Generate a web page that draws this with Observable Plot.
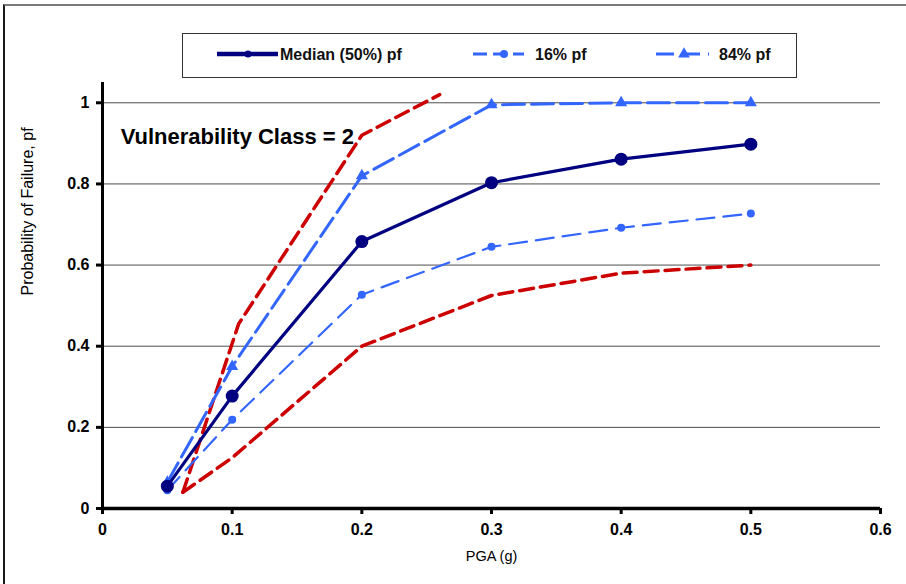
<!DOCTYPE html>
<html><head><meta charset="utf-8">
<script src="https://cdn.jsdelivr.net/npm/d3@7"></script>
<script src="https://cdn.jsdelivr.net/npm/@observablehq/plot@0.6"></script>
<style>
body{margin:0;background:#fff;font-family:"Liberation Sans",Arial,sans-serif;}
#wrap{position:relative;width:906px;height:584px;overflow:hidden;}
#frame{position:absolute;left:3px;top:4px;width:920px;height:600px;border-top:2px solid #7a7a7a;border-left:2px solid #1a1a1a;pointer-events:none;}
#legend{position:absolute;left:182px;top:33px;width:613px;height:43px;border:1.5px solid #333;background:#fff;}
#legend svg{display:block;}
</style></head><body>
<div id="wrap"><div id="chart"></div><div id="frame"></div><div id="legend"></div></div>
<script>
// ---- data ----
const pga = [0.05, 0.1, 0.2, 0.3, 0.4, 0.5];
const median = [0.055, 0.277, 0.658, 0.803, 0.861, 0.898];
const p16 = [0.045, 0.219, 0.527, 0.645, 0.692, 0.727];
const p84 = [0.065, 0.35, 0.82, 0.995, 1.0, 1.0];
const upperBoundX = [0.062, 0.105, 0.2, 0.26];
const upperBoundY = [0.04, 0.455, 0.92, 1.02];
const lowerBoundX = [0.062, 0.1, 0.2, 0.3, 0.4, 0.5];
const lowerBoundY = [0.04, 0.125, 0.4, 0.525, 0.58, 0.6];
const xTicks = [0, 0.1, 0.2, 0.3, 0.4, 0.5, 0.6];
const yTicks = [0, 0.2, 0.4, 0.6, 0.8, 1];
const gridY = [0.2, 0.4, 0.6, 0.8, 1];
const seriesNames = ["Median (50%) pf", "16% pf", "84% pf"];
const annotation = ["Vulnerability Class = 2"];
const annotX = [0.014];
const annotY = [0.916];
const xLabel = "PGA (g)";
const yLabel = "Probability of Failure, pf";

const NAVY = "#000080", BLUE = "#3366ff", RED = "#cc0000";

const medData = pga.map((x, i) => ({x, y: median[i]}));
const d16 = pga.map((x, i) => ({x, y: p16[i]}));
const d84 = pga.map((x, i) => ({x, y: p84[i]}));
const up = upperBoundX.map((x, i) => ({x, y: upperBoundY[i]}));
const lo = lowerBoundX.map((x, i) => ({x, y: lowerBoundY[i]}));
const ann = annotation.map((t, i) => ({t, x: annotX[i], y: annotY[i]}));

const chart = Plot.plot({
  width: 906, height: 584,
  marginLeft: 102, marginRight: 26, marginTop: 82, marginBottom: 76,
  style: {fontFamily: "'Liberation Sans', Arial, sans-serif", background: "#fff", overflow: "visible"},
  x: {domain: [0, 0.6]},
  y: {domain: [0, 1.05]},
  marks: [
    Plot.ruleY(gridY, {stroke: "#4d4d4d", strokeWidth: 1}),
    Plot.line(lo, {x: "x", y: "y", stroke: RED, strokeWidth: 3.5, strokeDasharray: "14,7"}),
    Plot.line(up, {x: "x", y: "y", stroke: RED, strokeWidth: 3.5, strokeDasharray: "14,7"}),
    Plot.line(d84, {x: "x", y: "y", stroke: BLUE, strokeWidth: 3, strokeDasharray: "22,7"}),
    Plot.dot(d84, {x: "x", y: "y", symbol: "triangle", r: 4.5, fill: BLUE}),
    Plot.line(d16, {x: "x", y: "y", stroke: BLUE, strokeWidth: 2.2, strokeDasharray: "18,9"}),
    Plot.dot(d16, {x: "x", y: "y", r: 4, fill: BLUE}),
    Plot.line(medData, {x: "x", y: "y", stroke: NAVY, strokeWidth: 3.2}),
    Plot.dot(medData, {x: "x", y: "y", r: 6.5, fill: NAVY}),
    Plot.ruleX([0], {stroke: "#000", strokeWidth: 3}),
    Plot.ruleY([0], {stroke: "#000", strokeWidth: 3.5}),
    Plot.axisX({ticks: xTicks, tickFormat: d => String(d), tickSize: 6, strokeWidth: 3, tickPadding: 9,
      fontSize: 16, fontWeight: "bold", label: null}),
    Plot.axisY({ticks: yTicks, tickFormat: d => String(d), tickSize: 6, strokeWidth: 3, tickPadding: 7,
      fontSize: 16, fontWeight: "bold", label: null}),
    Plot.text([xLabel], {frameAnchor: "bottom", dy: 52, fontSize: 14.5, fill: "#000"}),
    Plot.text([yLabel], {frameAnchor: "left", dx: -75, dy: 0, rotate: -90, fontSize: 16, fill: "#000"}),
    Plot.text(ann, {x: "x", y: "y", text: "t", textAnchor: "start", fontSize: 22, fontWeight: "bold", fill: "#000"})
  ]
});
document.getElementById("chart").appendChild(chart);

// ---- legend ----
const lg = d3.select("#legend").append("svg").attr("width", 613).attr("height", 43);
const items = [
  {name: seriesNames[0], color: NAVY, x1: 34, x2: 95, mx: 65, width: 4.5, dash: null, sym: "circle", r: 3.5, tx: 97},
  {name: seriesNames[1], color: BLUE, x1: 290, x2: 341, mx: 321, width: 3, dash: "14,6", sym: "circle", r: 4, tx: 352},
  {name: seriesNames[2], color: BLUE, x1: 473, x2: 526, mx: 501, width: 3, dash: "18,8", sym: "triangle", r: 5, tx: 536}
];
const cy = 20;
items.forEach(it => {
  const l = lg.append("line").attr("x1", it.x1).attr("x2", it.x2).attr("y1", cy).attr("y2", cy)
    .attr("stroke", it.color).attr("stroke-width", it.width);
  if (it.dash) l.attr("stroke-dasharray", it.dash);
  if (it.sym === "circle") lg.append("circle").attr("cx", it.mx).attr("cy", cy).attr("r", it.r).attr("fill", it.color);
  else lg.append("path").attr("d", d3.symbol(d3.symbolTriangle, 60)()).attr("transform", `translate(${it.mx},${cy})`).attr("fill", it.color);
  lg.append("text").attr("x", it.tx).attr("y", cy).attr("dy", "0.35em").attr("font-size", 16).attr("font-weight", "bold")
    .attr("font-family", "'Liberation Sans', Arial, sans-serif").attr("fill", "#111").text(it.name);
});
</script>
</body></html>
